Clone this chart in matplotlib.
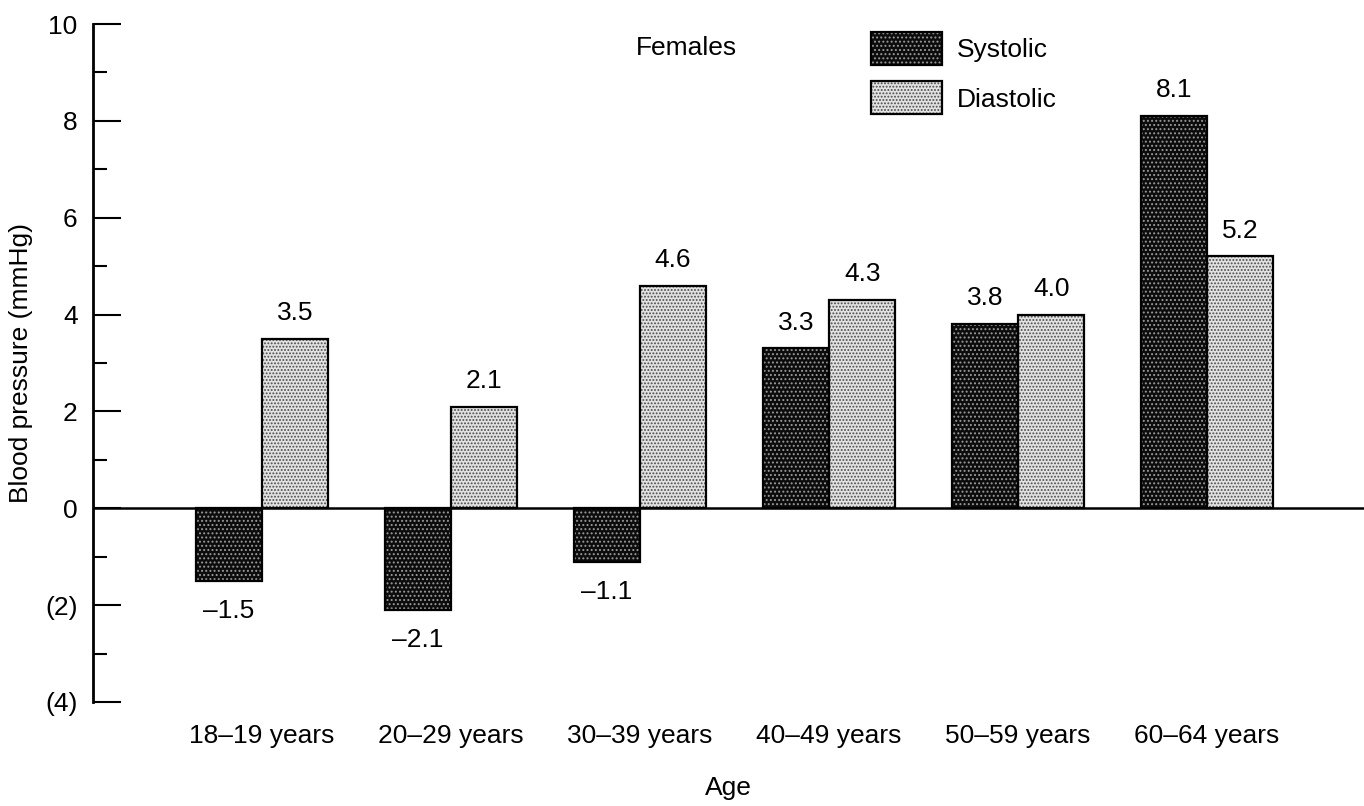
import numpy as np
import matplotlib
matplotlib.use('Agg')
import matplotlib.pyplot as plt
from matplotlib.patches import Patch

plt.rcParams['font.family'] = ['Liberation Sans', 'DejaVu Sans']
plt.rcParams['hatch.linewidth'] = 0.9

age_groups = ['18\u201319 years', '20\u201329 years', '30\u201339 years',
              '40\u201349 years', '50\u201359 years', '60\u201364 years']
systolic = [-1.5, -2.1, -1.1, 3.3, 3.8, 8.1]
diastolic = [3.5, 2.1, 4.6, 4.3, 4.0, 5.2]
ytick_vals = [-4, -2, 0, 2, 4, 6, 8, 10]
ytick_labels = ['(4)', '(2)', '0', '2', '4', '6', '8', '10']

sys_face, sys_dots = '#0c0c0c', '#9a9a9a'
dia_face, dia_dots = '#e2e2e2', '#4a4a4a'
FS = 19

fig = plt.figure(figsize=(13.64, 8.06), dpi=100)
ax = fig.add_axes([93 / 1364, 104 / 806, 1271 / 1364, 678 / 806])

x = np.arange(len(age_groups))
w = 0.35

# fill + dots first, then a plain black outline on top
ax.bar(x - w / 2, systolic, w, color=sys_face, edgecolor=sys_dots,
       hatch='....', linewidth=0, zorder=2)
ax.bar(x - w / 2, systolic, w, fill=False, edgecolor='black',
       linewidth=1.6, zorder=3)
ax.bar(x + w / 2, diastolic, w, color=dia_face, edgecolor=dia_dots,
       hatch='.....', linewidth=0, zorder=2)
ax.bar(x + w / 2, diastolic, w, fill=False, edgecolor='black',
       linewidth=1.6, zorder=3)

def fmt(v):
    s = f'{abs(v):.1f}'
    return '\u2013' + s if v < 0 else s

for xs, vals in ((x - w / 2, systolic), (x + w / 2, diastolic)):
    for xi, v in zip(xs, vals):
        if v >= 0:
            ax.annotate(fmt(v), (xi, v), xytext=(0, 10), textcoords='offset points',
                        ha='center', va='bottom', fontsize=FS)
        else:
            ax.annotate(fmt(v), (xi, v), xytext=(0, -13), textcoords='offset points',
                        ha='center', va='top', fontsize=FS)

ax.axhline(0, color='black', linewidth=1.8, zorder=4)

ax.set_xlim(-0.894, 5.83)
ax.set_ylim(-4, 10)
ax.set_yticks(ytick_vals)
ax.set_yticklabels(ytick_labels)
ax.set_yticks(np.arange(-3, 10, 2), minor=True)
ax.tick_params(axis='y', which='major', direction='in', length=20, width=1.5,
               labelsize=FS, pad=11)
ax.tick_params(axis='y', which='minor', direction='in', length=10, width=1.5)
ax.set_xticks(x)
ax.set_xticklabels(age_groups)
ax.tick_params(axis='x', length=0, labelsize=FS, pad=16)

for side in ('top', 'right', 'bottom'):
    ax.spines[side].set_visible(False)
ax.spines['left'].set_linewidth(2)

ax.set_xlabel('Age', fontsize=FS, labelpad=20)
ax.set_ylabel('Blood pressure (mmHg)', fontsize=FS, labelpad=9)

h_sys = (Patch(facecolor=sys_face, edgecolor=sys_dots, hatch='....', linewidth=0),
         Patch(fill=False, edgecolor='black', linewidth=1.6))
h_dia = (Patch(facecolor=dia_face, edgecolor=dia_dots, hatch='.....', linewidth=0),
         Patch(fill=False, edgecolor='black', linewidth=1.6))
fig.legend([h_sys, h_dia], ['Systolic', 'Diastolic'], loc='upper left',
           bbox_to_anchor=(871 / 1364, 1 - 32 / 806), bbox_transform=fig.transFigure,
           frameon=False, fontsize=FS, borderpad=0, borderaxespad=0,
           handlelength=2.7, handleheight=1.55, labelspacing=0.62,
           handletextpad=0.56)

fig.text(686 / 1364, 1 - 48 / 806, 'Females', ha='center', va='center', fontsize=FS)

fig.savefig('out.png', dpi=100)
